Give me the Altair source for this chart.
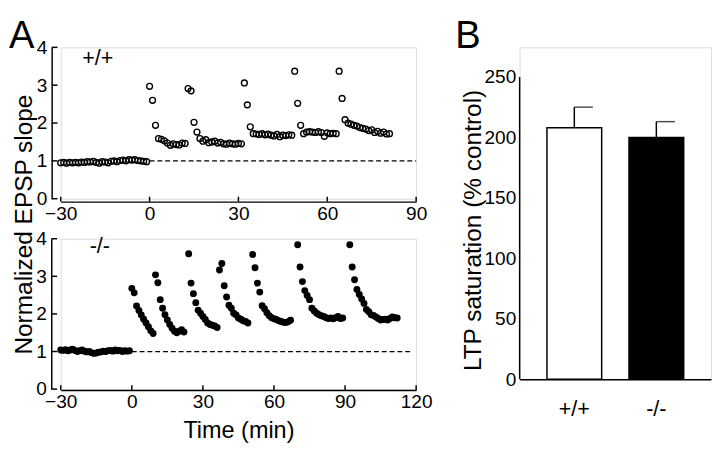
import altair as alt
import pandas as pd

FONT = "Liberation Sans"

# ---------------- Panel A, +/+ (open circles), 1-min samples ----------------
wt_baseline_start = -30
wt_baseline = [0.95, 0.96, 0.94, 0.96, 0.95, 0.96, 0.95, 0.97, 0.96, 0.98,
               0.97, 0.99, 0.96, 0.94, 0.98, 0.97, 0.95, 0.99, 1.00, 0.98,
               1.01, 1.02, 1.00, 1.03, 1.02, 1.03, 1.01, 1.00, 0.99, 0.98]
wt_ep_starts = [0, 13, 32, 49, 64]
wt_ep1 = [2.97, 2.60, 1.94, 1.59, 1.57, 1.53, 1.47, 1.41, 1.45, 1.43, 1.42, 1.47, 1.46]
wt_ep2 = [2.91, 2.85, 2.02, 1.76, 1.59, 1.52, 1.56, 1.48, 1.50, 1.52, 1.47, 1.49,
          1.45, 1.44, 1.47, 1.45, 1.44, 1.46, 1.45]
wt_ep3 = [3.06, 2.48, 1.90, 1.72, 1.71, 1.70, 1.72, 1.69, 1.71, 1.68, 1.66, 1.70,
          1.64, 1.68, 1.67, 1.69, 1.68]
wt_ep4 = [3.37, 2.52, 1.94, 1.72, 1.76, 1.77, 1.76, 1.75, 1.77, 1.75, 1.65, 1.74,
          1.72, 1.73, 1.72]
wt_ep5 = [3.37, 2.65, 2.09, 2.00, 1.97, 1.94, 1.92, 1.88, 1.86, 1.84, 1.80, 1.82,
          1.75, 1.78, 1.73, 1.76, 1.71, 1.72]

# ---------------- Panel A, -/- (filled circles) ----------------
ko_baseline_start = -30
ko_baseline = [1.04, 1.03, 1.05, 1.02, 1.04, 1.06, 1.03, 1.00, 1.02, 1.04,
               1.01, 0.99, 1.00, 0.97, 0.95, 0.96, 0.98, 0.99, 1.01, 1.00,
               1.02, 1.03, 1.01, 1.04, 1.02, 1.03, 1.00, 1.02, 1.01, 1.02]
ko_ep_starts = [0, 10, 24, 37, 51, 70, 92]
ko_ep1 = [2.68, 2.56, 2.21, 2.09, 1.97, 1.86, 1.76, 1.66, 1.55, 1.48]
ko_ep2 = [3.04, 2.83, 2.38, 2.15, 1.98, 1.84, 1.72, 1.62, 1.54, 1.50, 1.54, 1.58, 1.52]
ko_ep3 = [3.60, 2.82, 2.54, 2.30, 2.10, 2.02, 1.93, 1.85, 1.76, 1.72, 1.70, 1.68, 1.64]
ko_ep4 = [3.17, 3.34, 2.75, 2.45, 2.23, 2.15, 2.02, 1.97, 1.89, 1.86, 1.82, 1.80, 1.76]
ko_ep5 = [3.58, 3.23, 2.82, 2.58, 2.22, 2.14, 2.03, 1.95, 1.90, 1.87, 1.85, 1.82,
          1.80, 1.78, 1.77, 1.79, 1.83]
ko_ep6 = [3.84, 3.25, 2.86, 2.62, 2.49, 2.38, 2.15, 2.08, 2.02, 1.98, 1.95, 1.93,
          1.90, 1.88, 1.89, 1.87, 1.90, 1.93, 1.88, 1.89]
ko_ep7 = [3.84, 3.25, 2.91, 2.65, 2.52, 2.40, 2.28, 2.12, 2.06, 1.98, 1.96, 1.92,
          1.88, 1.84, 1.85, 1.86, 1.84, 1.88, 1.92, 1.90, 1.89]

# ---------------- Panel B ----------------
genotypes = ["+/+", "-/-"]
ltp_mean = [208, 200]
ltp_sem = [17, 13]

# ---------------- axes ----------------
x_ticks_top = [-30, 0, 30, 60, 90]
x_ticks_bottom = [-30, 0, 30, 60, 90, 120]
y_ticks_a = [0, 1, 2, 3, 4]
y_ticks_b = [0, 50, 100, 150, 200, 250]
y_max_b = 250


def series(start, values):
    return pd.DataFrame({"t": [start + i for i in range(len(values))], "v": values})


def build(baseline_start, baseline, starts, episodes):
    parts = [series(baseline_start, baseline)]
    for s, ep in zip(starts, episodes):
        parts.append(series(s, ep))
    return pd.concat(parts, ignore_index=True)


df_wt = build(wt_baseline_start, wt_baseline, wt_ep_starts,
              [wt_ep1, wt_ep2, wt_ep3, wt_ep4, wt_ep5])
df_ko = build(ko_baseline_start, ko_baseline, ko_ep_starts,
              [ko_ep1, ko_ep2, ko_ep3, ko_ep4, ko_ep5, ko_ep6, ko_ep7])

LABEL = dict(labelFont=FONT, labelFontSize=19.5, labelColor="black", labelFlush=False,
             domainColor="black", domainWidth=1.5, grid=False)


def letter(text, lx, ly):
    return alt.Chart(pd.DataFrame({"g": [text]})).mark_text(
        font=FONT, fontSize=39, color="black", align="left", baseline="alphabetic").encode(
        text="g:N", x=alt.value(lx), y=alt.value(ly))


def panel(df, filled, xdom, xticks, W, H, xoff, yoff, dash_end, label, lx, ly,
          xtitle=None, ytitle=None, panel_letter=None):
    xs = alt.Scale(domain=xdom, nice=False, zero=False)
    ys = alt.Scale(domain=[0, 4], nice=False)
    xaxis_kw = dict(values=xticks, ticks=False, offset=xoff, labelPadding=3, **LABEL)
    if xtitle:
        xaxis_kw.update(title=xtitle, titleFont=FONT, titleFontSize=24,
                        titleFontWeight="normal", titleColor="black", titlePadding=8)
    else:
        xaxis_kw.update(title=None)
    yaxis_kw = dict(values=y_ticks_a, ticks=False, offset=yoff, labelPadding=5, **LABEL)
    if ytitle:
        yaxis_kw.update(title=ytitle, titleFont=FONT, titleFontSize=25,
                        titleFontWeight="normal", titleColor="black",
                        titleAngle=270, titleAlign="center", titleBaseline="alphabetic",
                        titleX=-21, titleY=181)
    else:
        yaxis_kw.update(title=None)
    xaxis = alt.Axis(**xaxis_kw)
    yaxis = alt.Axis(**yaxis_kw)

    if filled:
        pts = alt.Chart(df).mark_circle(color="black", size=50, opacity=1)
    else:
        pts = alt.Chart(df).mark_point(shape="circle", filled=False, color="black",
                                       strokeWidth=1.4, size=36, opacity=1)
    pts = pts.encode(x=alt.X("t:Q", scale=xs, axis=xaxis),
                     y=alt.Y("v:Q", scale=ys, axis=yaxis))

    dash = alt.Chart(pd.DataFrame({"t": [0], "t2": [dash_end], "v": [1]})).mark_rule(
        color="black", strokeWidth=1.3, strokeDash=[5, 3]).encode(
        x=alt.X("t:Q", scale=xs, axis=xaxis), x2="t2:Q",
        y=alt.Y("v:Q", scale=ys, axis=yaxis))

    xt = alt.Chart(pd.DataFrame({"t": xticks})).mark_rule(
        color="black", strokeWidth=1.5).encode(
        x=alt.X("t:Q", scale=xs, axis=xaxis),
        y=alt.value(H + xoff), y2=alt.value(H + xoff - 5))

    yt = alt.Chart(pd.DataFrame({"v": y_ticks_a})).mark_rule(
        color="black", strokeWidth=1.5).encode(
        y=alt.Y("v:Q", scale=ys, axis=yaxis),
        x=alt.value(-yoff), x2=alt.value(-yoff + 6))

    txt = alt.Chart(pd.DataFrame({"g": [label]})).mark_text(
        font=FONT, fontSize=22, color="black", align="center", baseline="middle").encode(
        text="g:N", x=alt.value(lx), y=alt.value(ly))

    layers = [dash, xt, yt, pts, txt]
    if panel_letter:
        layers.append(letter(panel_letter, -53, 1))
    return alt.layer(*layers).properties(width=W, height=H)


top = panel(df_wt, False, [-30, 90], x_ticks_top, 364, 155, 3, 9.3, 90, "+/+", 38, 11,
            ytitle="Normalized EPSP slope", panel_letter="A")
bottom = panel(df_ko, True, [-30, 120], x_ticks_bottom, 364, 154, 1, 9.7, 118, "-/-", 40, 8,
               xtitle="Time (min)")

left = alt.vconcat(top, bottom, spacing=41, bounds="flush")

# ---------------- Panel B ----------------
# plot area starts level with panel A; the axis stops at 250 like the original
B_H = 340
B_TOP = 274.4
df_b = pd.DataFrame({"g": genotypes, "m": ltp_mean, "e": ltp_sem})
df_b["hi"] = df_b["m"] + df_b["e"]

bx = alt.X("g:N", sort=genotypes,
           scale=alt.Scale(paddingInner=0.333, paddingOuter=0.333),
           axis=alt.Axis(labelAngle=0, ticks=False, labelPadding=20, title=None,
                         labelFontSize=22,
                         **{k: v for k, v in LABEL.items() if k != "labelFontSize"}))
bys = alt.Scale(domain=[0, B_TOP], nice=False)
byaxis = alt.Axis(values=y_ticks_b, ticks=False, labelPadding=4, domain=False,
                  title="LTP saturation (% control)", titleFont=FONT, titleFontSize=25,
                  titleFontWeight="normal", titleColor="black",
                  titleAngle=270, titleAlign="center", titleBaseline="alphabetic",
                  titleX=-40, titleY=187, **LABEL)

bars = alt.Chart(df_b).mark_bar(stroke="black", strokeWidth=1.5).encode(
    x=bx, y=alt.Y("m:Q", scale=bys, axis=byaxis),
    color=alt.Color("g:N", scale=alt.Scale(domain=genotypes, range=["white", "black"]),
                    legend=None))
err = alt.Chart(df_b).mark_rule(color="black", strokeWidth=1.5).encode(
    x=bx, y=alt.Y("m:Q", scale=bys, axis=byaxis), y2="hi:Q")
cap = alt.Chart(df_b).mark_tick(color="black", orient="horizontal", size=19,
                                thickness=1.5, xOffset=9.5).encode(
    x=bx, y=alt.Y("hi:Q", scale=bys, axis=byaxis))
yline = alt.Chart(pd.DataFrame({"lo": [0], "hi": [y_max_b]})).mark_rule(
    color="black", strokeWidth=1.5).encode(
    x=alt.value(0), y=alt.Y("lo:Q", scale=bys, axis=byaxis), y2="hi:Q")

right = alt.layer(err, cap, bars, yline, letter("B", -66, 1)).properties(
    width=196, height=B_H)

chart = alt.hconcat(left, right, spacing=22).properties(
    padding={"left": 0, "top": 4, "right": 0, "bottom": 0}
).configure_view(strokeWidth=0).configure(background="white")

chart.save("out.html", embed_options={"renderer": "svg", "actions": False})
